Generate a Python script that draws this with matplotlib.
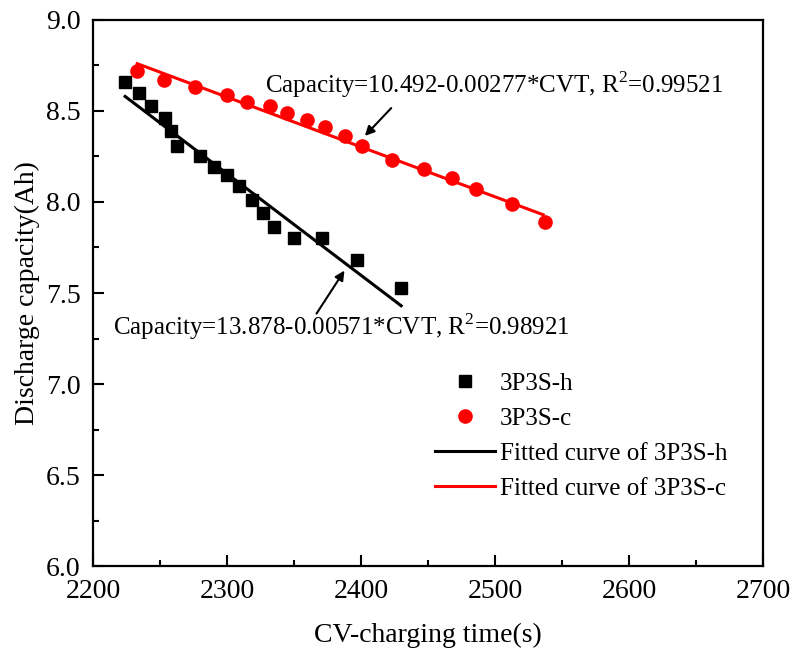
import matplotlib
matplotlib.use("Agg")
import matplotlib.pyplot as plt
from matplotlib.ticker import MultipleLocator, FormatStrFormatter

plt.rcParams['font.family'] = 'Liberation Serif'
plt.rcParams['mathtext.fontset'] = 'custom'
plt.rcParams['mathtext.rm'] = 'Liberation Serif'

# donnees
h_time = [2224, 2234, 2243, 2254, 2258, 2263, 2280, 2290, 2300, 2309, 2319, 2327, 2335, 2350, 2371, 2397, 2430]
h_cap = [8.66, 8.60, 8.53, 8.46, 8.39, 8.31, 8.25, 8.19, 8.15, 8.09, 8.01, 7.94, 7.86, 7.80, 7.80, 7.68, 7.53]

c_time = [2233, 2253, 2276, 2300, 2315, 2332, 2345, 2360, 2373, 2388, 2401, 2423, 2447, 2468, 2486, 2513, 2537]
c_cap = [8.72, 8.67, 8.63, 8.59, 8.55, 8.53, 8.49, 8.45, 8.41, 8.36, 8.31, 8.23, 8.18, 8.13, 8.07, 7.99, 7.89]

# droites ajustees (extremites)
fit_h_time = [2224, 2430]
fit_h_cap = [8.58, 7.43]
fit_c_time = [2233, 2536]
fit_c_cap = [8.76, 7.93]

labels = ['3P3S-h', '3P3S-c', 'Fitted curve of 3P3S-h', 'Fitted curve of 3P3S-c']
eq_c = 'Capacity=10.492-0.00277*CVT, R$^{2}$=0.99521'
eq_h = 'Capacity=13.878-0.00571*CVT, R$^{2}$=0.98921'

fig = plt.figure(figsize=(7.96, 6.53), dpi=100)
ax = fig.add_axes([0.1168, 0.1332, 0.8417, 0.8362])

l1, = ax.plot(fit_h_time, fit_h_cap, color='black', lw=2.2)
l2, = ax.plot(fit_c_time, fit_c_cap, color='#ff0000', lw=2.2)
s1, = ax.plot(h_time, h_cap, 's', color='black', ms=8.5, ls='none')
s2, = ax.plot(c_time, c_cap, 'o', color='#ff0000', ms=9.5, ls='none')

# annotations
ax.annotate('', xy=(2401.5, 8.352), xytext=(2424, 8.527),
            arrowprops=dict(arrowstyle='-|>', color='black', lw=1.5, mutation_scale=14))
ax.text(2328.4, 8.597, eq_c, fontsize=18, va='baseline', ha='left')

ax.annotate('', xy=(2388.8, 7.636), xytext=(2365.7, 7.374),
            arrowprops=dict(arrowstyle='-|>', color='black', lw=1.5, mutation_scale=14))
ax.text(2214.9, 7.269, eq_h, fontsize=18, va='baseline', ha='left')

leg = ax.legend([s1, s2, l1, l2], labels, loc='upper left',
                bbox_to_anchor=(0.510, 0.354), bbox_transform=ax.transAxes,
                frameon=False, fontsize=18, handlelength=2.4, handletextpad=0.2,
                labelspacing=0.5, borderpad=0, borderaxespad=0, numpoints=1)

# axes
ax.set_xlim(2200, 2700)
ax.set_ylim(6.0, 9.0)
ax.xaxis.set_major_locator(MultipleLocator(100))
ax.xaxis.set_minor_locator(MultipleLocator(50))
ax.yaxis.set_major_locator(MultipleLocator(0.5))
ax.yaxis.set_minor_locator(MultipleLocator(0.25))
ax.yaxis.set_major_formatter(FormatStrFormatter('%.1f'))
ax.tick_params(which='major', direction='in', length=8, width=1.5, labelsize=20, pad=9)
ax.tick_params(which='minor', direction='in', length=4, width=1.5)
for s in ax.spines.values():
    s.set_linewidth(1.6)

ax.set_xlabel('CV-charging time(s)', fontsize=20, labelpad=14)
ax.set_ylabel('Discharge capacity(Ah)', fontsize=20, labelpad=4)

fig.savefig('out.png', dpi=100)
